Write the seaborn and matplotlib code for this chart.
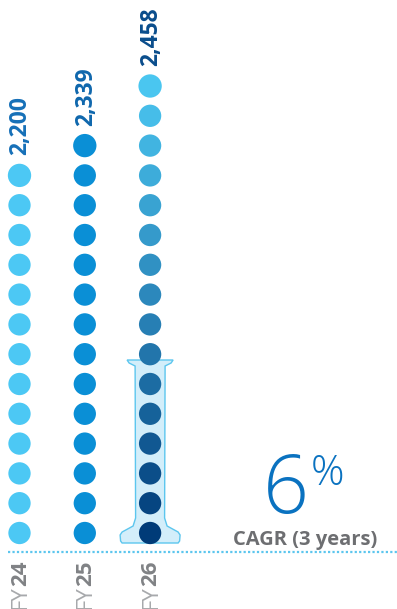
import numpy as np
import pandas as pd
import matplotlib.pyplot as plt
from matplotlib.patches import Polygon
from matplotlib.colors import to_hex
import seaborn as sns

# chart values
years = ["FY24", "FY25", "FY26"]
totals = ["2,200", "2,339", "2,458"]
dot_counts = [13, 14, 16]
cagr_value = "6"
cagr_caption = "CAGR (3 years)"

# colours
col_fy24 = "#4cc8f4"
col_fy25 = "#0a8fd6"
fy26_top = "#4ac6f0"
fy26_mid = "#2a84b8"
fy26_bottom = "#003b78"
label_cols = ["#1670b8", "#0f67ad", "#0a4d8c"]

sns.set_style("white")
plt.rcParams['font.family'] = ['Open Sans', 'DejaVu Sans']

# layout in pixels
col_x0, col_step = 19.5, 65.3
base_y, dot_step = 533, 29.8

rows = []
for i, (yr, n) in enumerate(zip(years, dot_counts)):
    if yr == "FY26":
        cols = [to_hex(c) for c in sns.blend_palette([fy26_bottom, fy26_mid, fy26_top], n)]
    else:
        cols = [col_fy24 if i == 0 else col_fy25] * n
    for j in range(n):
        rows.append({"year": yr,
                     "x": col_x0 + col_step * i,
                     "y": base_y - dot_step * j,
                     "colour": cols[j],
                     "top": "big" if j == n - 1 else "small"})
dots = pd.DataFrame(rows)

fig = plt.figure(figsize=(3.97, 6.09), dpi=100)
ax = fig.add_axes([0, 0, 1, 1])

# thermometer behind FY26
cx = col_x0 + col_step * 2
shape = [(-23, 360), (23, 360), (21, 363), (15, 366), (14.5, 518), (17, 526),
         (28, 532), (30, 535), (29.5, 541), (28, 543), (-28, 543), (-29.5, 541),
         (-30, 535), (-28, 532), (-17, 526), (-14.5, 518), (-15, 366), (-21, 363)]
ax.add_patch(Polygon([(cx + dx, y) for dx, y in shape], closed=True,
                     facecolor="#d3eefa", edgecolor="#5cc6ee", lw=1, zorder=1))

palette = {c: c for c in dots["colour"].unique()}
sns.scatterplot(data=dots, x="x", y="y", hue="colour", palette=palette,
                size="top", sizes={"big": 282, "small": 258},
                linewidth=0, legend=False, ax=ax, zorder=3)
ax.set_xlim(0, 397)
ax.set_ylim(609, 0)
ax.axis("off")

# value labels
for i, (lab, n) in enumerate(zip(totals, dot_counts)):
    x = col_x0 + col_step * i
    ytop = base_y - dot_step * (n - 1)
    ax.text(x + 1, ytop - 20, lab, rotation=90, ha="center", va="bottom",
            fontsize=16.5, fontweight="bold", color=label_cols[i])

# baseline
ax.plot([8, 397], [552, 552], color="#5cc6ee", lw=1.6, ls=(0, (1, 1)))

# year labels: bold number, then light "FY" right below it
fig.canvas.draw()
renderer = fig.canvas.get_renderer()
for i, yr in enumerate(years):
    x = col_x0 + col_step * i
    t = ax.text(x + 1, 561, yr[2:], rotation=90, ha="center", va="top",
                fontsize=16, fontweight="bold", color="#808285")
    bb = t.get_window_extent(renderer).transformed(ax.transData.inverted())
    ybot = max(bb.y0, bb.y1)
    ax.text(x + 1, ybot - 1, yr[:2], rotation=90, ha="center", va="top",
            fontsize=16, color="#a7a9ac")

# CAGR callout
ax.text(286, 513, cagr_value, ha="center", va="baseline", fontsize=58,
        fontweight="light", color="#0a72c0")
ax.text(311, 485, "%", ha="left", va="baseline", fontsize=30,
        fontweight="light", color="#0a72c0")
ax.text(305, 545, cagr_caption, ha="center", va="baseline", fontsize=14.5,
        fontweight="bold", color="#6d6e71")

plt.savefig("out.png", dpi=100)
